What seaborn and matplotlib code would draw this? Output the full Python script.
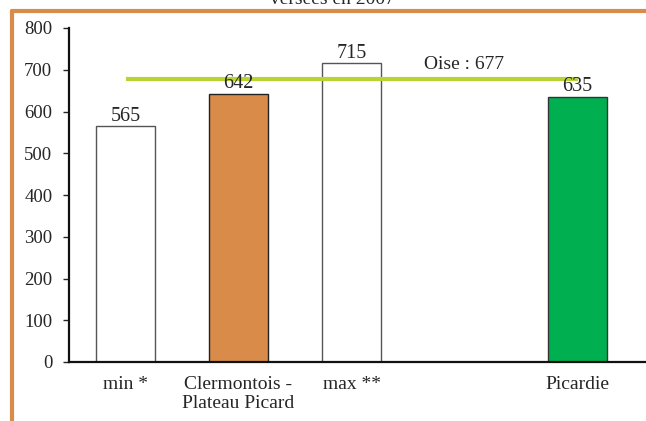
import numpy as np
import pandas as pd
import seaborn as sns
import matplotlib.pyplot as plt
from matplotlib.lines import Line2D

# data
categories = ["min *", "Clermontois -\nPlateau Picard", "max **", " ", "Picardie"]
values = [565, 642, 715, np.nan, 635]
bar_colors = ["white", "#d98c4a", "white", "white", "#00b050"]
edge_colors = ["#555555", "#222222", "#555555", "#555555", "#333333"]
oise_value = 677
oise_label = "Oise : 677"
title = "versées en 2007"

sns.set_style("white")
plt.rcParams["font.family"] = ["Liberation Serif", "DejaVu Serif"]

df = pd.DataFrame({"cat": categories, "val": values})

fig = plt.figure(figsize=(6.46, 4.21), dpi=100)
ax = fig.add_axes([69 / 646, 1 - 362 / 421, 1 - 69 / 646, (362 - 28) / 421])

sns.barplot(data=df.dropna(), x="cat", y="val", order=categories,
            hue="cat", hue_order=categories, palette=bar_colors,
            legend=False, width=0.53, ax=ax, saturation=1)

drawn = [c for c, v in zip(categories, values) if not np.isnan(v)]
for patch, cat in zip(ax.patches, drawn):
    patch.set_edgecolor(edge_colors[categories.index(cat)])
    patch.set_linewidth(1.0)

# Oise reference line from first to last bar
ax.plot([0, 4], [oise_value, oise_value], color="#b8d432", lw=3, zorder=3,
        solid_capstyle="butt")
ax.text(3, oise_value + 15, oise_label, ha="center", va="bottom", fontsize=14)

for i, v in enumerate(values):
    if not np.isnan(v):
        ax.annotate(f"{v:.0f}", (i, v), xytext=(0, 4), textcoords="offset points",
                    ha="center", va="baseline", fontsize=14.5, zorder=4)

ax.set_xlim(-0.5, 4.606)
ax.set_ylim(0, 800)
ax.set_yticks(range(0, 801, 100))
ax.set_xlabel("")
ax.set_ylabel("")
for s in ["top", "right"]:
    ax.spines[s].set_visible(False)
for s in ["left", "bottom"]:
    ax.spines[s].set_color("#111111")
    ax.spines[s].set_linewidth(1.6)
ax.tick_params(axis="y", which="both", left=True, length=4, width=1,
               labelsize=13.5, pad=8)
ax.tick_params(axis="x", length=0, labelsize=14, pad=10)
ax.set_facecolor("none")

# orange frame, cropped at right and bottom
frame_color = "#d98c4a"
fig.add_artist(Line2D([12 / 646, 1], [1 - 11 / 421, 1 - 11 / 421],
                      color=frame_color, lw=3, transform=fig.transFigure))
fig.add_artist(Line2D([12 / 646, 12 / 646], [0, 1 - 11 / 421],
                      color=frame_color, lw=3, transform=fig.transFigure))

fig.text(332 / 646, 1.0, title, ha="center", va="center", fontsize=14)

fig.savefig("out.png", dpi=100)
